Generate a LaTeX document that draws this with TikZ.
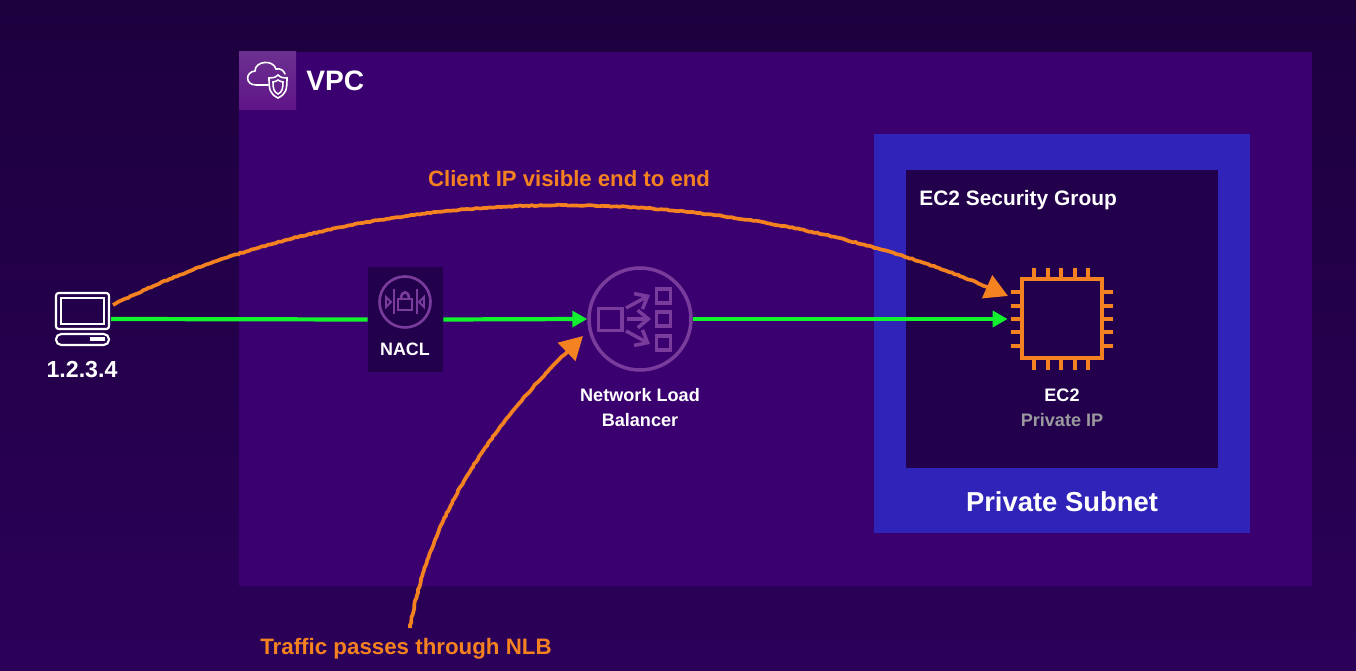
\documentclass[tikz,border=0pt]{standalone}
\usepackage{fontspec}
\setmainfont{Liberation Sans}
\usetikzlibrary{arrows.meta,decorations.pathmorphing,shapes.geometric}
\definecolor{bgtop}{HTML}{1D003E}
\definecolor{bgbottom}{HTML}{2B0059}
\definecolor{vpcfill}{HTML}{3A0070}
\definecolor{vpcicontop}{HTML}{6C3090}
\definecolor{vpciconlow}{HTML}{5F1488}
\definecolor{subnetfill}{HTML}{3024B8}
\definecolor{groupfill}{HTML}{22004C}
\definecolor{iconline}{HTML}{7A3C9C}
\definecolor{flowgreen}{HTML}{12F22E}
\definecolor{noteorange}{HTML}{F58220}
\definecolor{ipgrey}{HTML}{9A9A9E}
\tikzset{
  lbl/.style={inner sep=0pt,text=white,align=center},
  hole/.style={inner sep=0pt,draw=none},
  flow/.style={flowgreen,line width=2.4pt,-{Triangle[length=8.5pt,width=9pt]}},
  flowplain/.style={flowgreen,line width=2.4pt},
  note/.style={noteorange,line width=2.1pt,decorate,
    decoration={random steps,segment length=1.6pt,amplitude=0.3pt,post length=10pt},
    -{Triangle[length=13pt,width=14pt]}},
  icon/.style={iconline,line width=1.5pt},
  chip/.style={noteorange,line width=2.1pt},
  small/.style={font=\fontsize{10.3}{14.2}\selectfont\bfseries},
}
\begin{document}
\begin{tikzpicture}[x=0.02cm,y=-0.02cm]
\useasboundingbox (0,0) rectangle (1356,671);
\fill [top color=bgtop,bottom color=bgbottom] (0,0) rectangle (1356,671);
\fill [vpcfill] (239,52) rectangle (1312,586);
\fill [bottom color=vpciconlow,top color=vpcicontop] (239,52) rectangle (296,110);
\fill [subnetfill] (874,134) rectangle (1250,533);
\fill [groupfill] (906,170) rectangle (1218,468);
% vpc icon
\draw [white,line width=0.9pt,line cap=round]
  (268,85) -- (256,85) .. controls (245,85) and (245,72) .. (255,71)
  .. controls (255,61) and (273,59) .. (276,69) .. controls (281,68) and (284,71) .. (285,74);
\draw [white,line width=0.9pt] (278,75) .. controls (281,78) and (284,78) .. (287,78)
  .. controls (287,90) and (286,94) .. (278,98) .. controls (270,94) and (269,90) .. (269,78)
  .. controls (272,78) and (275,78) .. (278,75) -- cycle;
\draw [white,line width=0.9pt] (278,80) .. controls (280,81) and (281,82) .. (283,82)
  .. controls (283,89) and (282,92) .. (278,94) .. controls (274,92) and (273,89) .. (273,82)
  .. controls (275,82) and (276,81) .. (278,80) -- cycle;
\node (vpclabel) [lbl,anchor=west] at (306,81) {\fontsize{16}{19}\selectfont\bfseries VPC};
% client
\node (client) [hole,minimum width=1.06cm,minimum height=1.04cm] at (82.5,319) {};
\draw [white,line width=1.2pt,rounded corners=1.5pt] (56,293) rectangle (109,329);
\draw [white,line width=1.2pt] (61,298) rectangle (104,324);
\draw [white,line width=1.2pt,rounded corners=3pt] (56,334) rectangle (109,345);
\fill [white] (90,337) rectangle (105,341);
\node (clientip) [lbl] at (82,370) {\fontsize{13.2}{16}\selectfont\bfseries 1.2.3.4};
% nacl
\node (nacl) [hole,fill=groupfill,minimum width=1.5cm,minimum height=2.1cm] at (405.5,319.5) {};
\draw [icon] (405,302) circle (25.5);
\draw [icon] (394,289) -- (394,314) (417,289) -- (417,314);
\draw [icon] (398,299) rectangle (412,310);
\draw [icon] (401,299) .. controls (401,290) and (409,290) .. (409,299);
\draw [icon,line width=1.1pt] (386,297) -- (391,302) -- (386,307) -- cycle;
\draw [icon,line width=1.1pt] (424,297) -- (419,302) -- (424,307) -- cycle;
\node (nacllabel) [lbl,font=\fontsize{10.2}{14}\selectfont\bfseries] at (405,349) {NACL};
% nlb
\node (nlb) [hole,circle,draw=iconline,line width=2pt,minimum size=2.04cm] at (640,319) {};
\draw [icon,line width=2.2pt] (598.5,308.5) rectangle (622,330.5);
\foreach \ypos in {296,319,343} {
  \draw [icon,line width=2pt] (656.5,\ypos-7) rectangle (670.5,\ypos+7);
}
\draw [icon,line width=2pt,-{Straight Barb[length=6pt,width=10pt]}] (626,308) -- (650,295);
\draw [icon,line width=2pt,-{Straight Barb[length=6pt,width=10pt]}] (627,319) -- (651,319);
\draw [icon,line width=2pt,-{Straight Barb[length=6pt,width=10pt]}] (626,331) -- (650,344);
\node (nlblabel) [lbl,small] at (640,408) {Network Load\\Balancer};
% ec2
\node (ec2) [hole,minimum width=2.04cm,minimum height=2.04cm] at (1062,319) {};
\draw [chip,line width=2.3pt] (1022,279) rectangle (1102,358);
\foreach \pin in {1034,1048,1061,1075,1088} {
  \draw [chip] (\pin,268) -- (\pin,279) (\pin,358) -- (\pin,370);
}
\foreach \pin in {292,306,319,332,346} {
  \draw [chip] (1011,\pin) -- (1022,\pin) (1102,\pin) -- (1113,\pin);
}
\node (ec2label) [lbl,small] at (1062,395) {EC2};
\node (ec2ip) [lbl,small,text=ipgrey] at (1062,420) {Private IP};
\node (grouplabel) [lbl,anchor=west] at (919,200) {\fontsize{11.9}{15}\selectfont\bfseries EC2 Security Group};
\node (subnetlabel) [lbl] at (1062,502) {\fontsize{15.6}{19}\selectfont\bfseries Private Subnet};
% flows
\draw [flowplain,shorten <=1pt] (client.east) -- (nacl.west);
\draw [flow] (nacl.east) -- (nlb.west);
\draw [flow,shorten >=1.7pt] (nlb.east) -- (ec2.west);
% notes
\coordinate (clientstart) at (113,305);
\coordinate (clienttip) at (1008,296);
\coordinate (trafficstart) at (410,628);
\coordinate (traffictip) at (583,336);
\draw [note] (clientstart) .. controls (390,165) and (757,182) .. (clienttip);
\draw [note] (trafficstart) .. controls (430,510) and (495,420) .. (traffictip);
\node (clientnote) [lbl,text=noteorange] at (569,179) {\fontsize{12.6}{16}\selectfont\bfseries Client IP visible end to end};
\node (trafficnote) [lbl,text=noteorange] at (406,649) {\fontsize{12.7}{16}\selectfont\bfseries Traffic passes through NLB};
\end{tikzpicture}
\end{document}
